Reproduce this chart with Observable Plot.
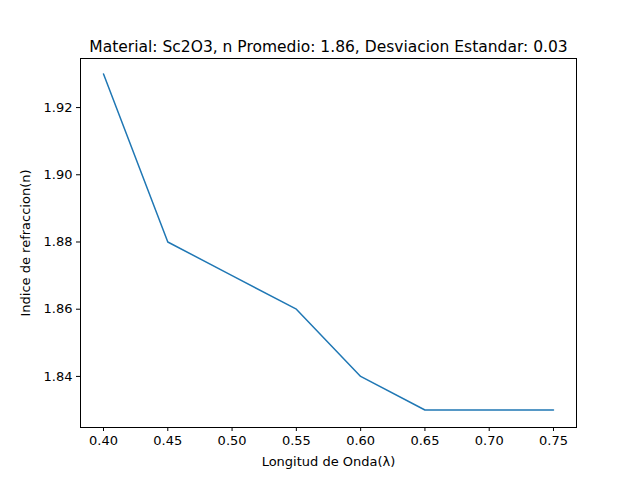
<!DOCTYPE html>
<html><head><meta charset="utf-8">
<script src="https://cdn.jsdelivr.net/npm/d3@7"></script>
<script src="https://cdn.jsdelivr.net/npm/@observablehq/plot@0.6"></script>
<style>body{margin:0;background:#fff}</style>
</head><body><div id="chart"></div>
<script>
const longitudes = [0.40, 0.45, 0.50, 0.55, 0.60, 0.65, 0.70, 0.75]
const indices = [1.93, 1.88, 1.87, 1.86, 1.84, 1.83, 1.83, 1.83]
const titulo = "Material: Sc2O3, n Promedio: 1.86, Desviacion Estandar: 0.03"

const data = longitudes.map((x, i) => ({x, n: indices[i]}))

const chart = Plot.plot({
  width: 640, height: 480,
  marginLeft: 80, marginRight: 64, marginTop: 58, marginBottom: 53,
  style: {fontFamily: "DejaVu Sans", fontSize: "13px", background: "white", color: "black"},
  x: {domain: [0.3821, 0.7679]},
  y: {domain: [1.8248, 1.9346]},
  marks: [
    Plot.frame({stroke: "black"}),
    Plot.axisX({ticks: longitudes, tickFormat: d3.format(".2f"), tickSize: 4, tickPadding: 4,
      label: "Longitud de Onda(λ)", labelAnchor: "center", labelArrow: "none", labelOffset: 38}),
    Plot.axisY({ticks: [1.84, 1.86, 1.88, 1.90, 1.92], tickFormat: d3.format(".2f"), tickSize: 4, tickPadding: 4,
      label: "Indice de refraccion(n)", labelAnchor: "center", labelArrow: "none", labelOffset: 60}),
    Plot.line(data, {x: "x", y: "n", stroke: "#1f77b4", strokeWidth: 1.5}),
    Plot.text([titulo], {frameAnchor: "top", dy: -18, fontSize: 15.5, fill: "black"})
  ]
})
document.getElementById("chart").append(chart)
</script></body></html>
